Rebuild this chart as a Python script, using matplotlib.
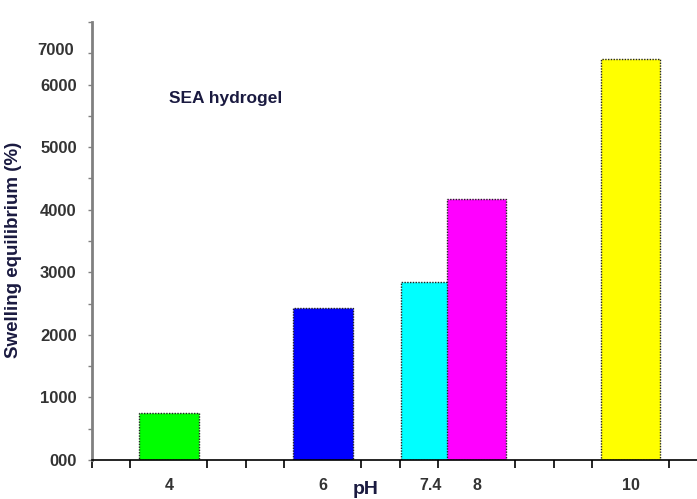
import matplotlib
matplotlib.use("Agg")
import matplotlib.pyplot as plt
from matplotlib.ticker import MultipleLocator

plt.rcParams['font.family'] = ['Liberation Sans', 'DejaVu Sans']
plt.rcParams['font.weight'] = 'bold'

# data
ph = [4, 6, 7.4, 8, 10]
ph_labels = ['4', '6', '7.4', '8', '10']
swelling = [750, 2430, 2845, 4170, 6405]
colors = ['#00ff00', '#0000ff', '#00ffff', '#ff00ff', '#ffff00']
y_ticks = [0, 1000, 2000, 3000, 4000, 5000, 6000]
y_labels = ['000', '1000', '2000', '3000', '4000', '5000', '6000']

fig = plt.figure(figsize=(6.97, 4.99), dpi=100)
ax = fig.add_axes([0.132, 0.078, 0.868, 0.878])

for x, v, c in zip(ph, swelling, colors):
    ax.bar(x, v, width=0.77, color=c, edgecolor='#222222',
           linestyle=(0, (1, 1)), linewidth=1.0)

ax.set_xlim(3, 10.86)
ax.set_ylim(0, 7000)

ax.spines['top'].set_visible(False)
ax.spines['right'].set_visible(False)
ax.spines['left'].set_color('#808080')
ax.spines['left'].set_linewidth(2)
ax.spines['bottom'].set_color('black')
ax.spines['bottom'].set_linewidth(1.2)

# x: labels only at the pH values, small ticks every 0.5
ax.set_xticks(ph)
ax.set_xticklabels(ph_labels, fontsize=11.5, fontweight='bold', color='#333333')
ax.xaxis.set_minor_locator(MultipleLocator(0.5))
ax.tick_params(axis='x', which='major', length=0, pad=13)
ax.tick_params(axis='x', which='minor', length=6, width=1.2, color='black', direction='out')

ax.set_yticks(y_ticks)
ax.set_yticklabels(y_labels, fontsize=12, fontweight='bold', color='#333333')
ax.yaxis.set_minor_locator(MultipleLocator(500))
ax.tick_params(axis='y', which='both', length=3, width=1, color='#808080', pad=8)
ax.text(-0.03, 6540, '7000', transform=ax.get_yaxis_transform(), ha='right', va='center',
        fontsize=12, fontweight='bold', color='#333333')

ax.set_ylabel('Swelling equilibrium (%)', fontsize=13.5, fontweight='bold', color='#1a1a40')
ax.yaxis.set_label_coords(-0.115, 0.48)

fig.text(366 / 697, 0.002, 'pH', ha='center', va='bottom', fontsize=14,
         fontweight='bold', color='#1a1a40')

ax.text(4.0, 5780, 'SEA hydrogel', ha='left', va='center', fontsize=12.5,
        fontweight='bold', color='#1a1a40')

fig.savefig('out.png', dpi=100)
